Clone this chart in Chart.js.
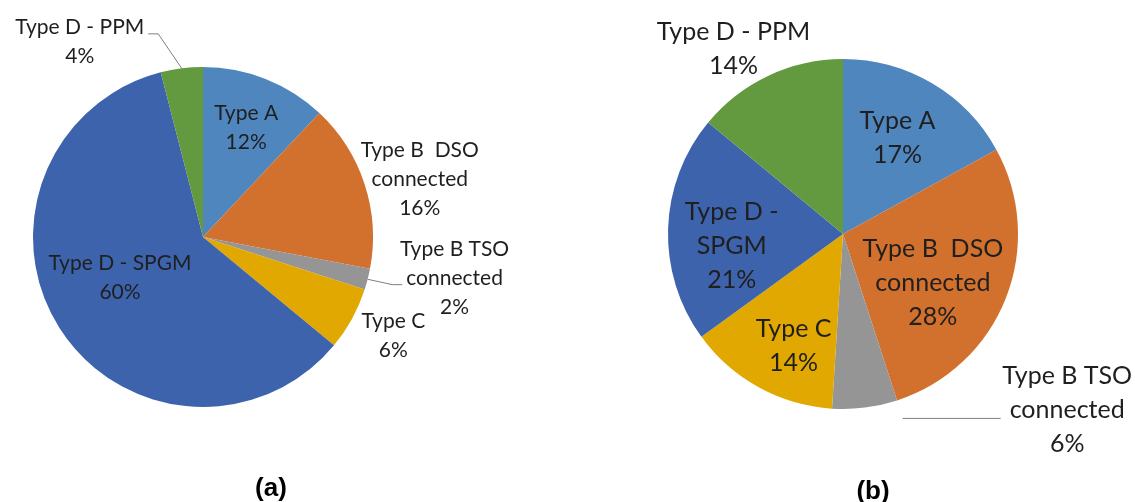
<!DOCTYPE html>
<html lang="en">
<head>
  <meta charset="UTF-8">
  <title>Generator types share</title>
  <script src="https://cdn.jsdelivr.net/npm/chart.js@4/dist/chart.umd.min.js"></script>
  <style>
    body { margin: 0; background: #fff; }
    #wrap { position: relative; width: 1135px; height: 502px; overflow: hidden; }
    .box { position: absolute; top: 0; height: 502px; }
    .cap { position: absolute; font: bold 26px "Liberation Sans", Arial, sans-serif; color: #000; transform: translate(-50%, -50%); }
  </style>
</head>
<body>
  <div id="wrap">
    <div class="box" style="left:0;width:560px"><canvas id="pieA"></canvas></div>
    <div class="box" style="left:560px;width:575px"><canvas id="pieB"></canvas></div>
    <div class="cap" style="left:271px;top:487px">(a)</div>
    <div class="cap" style="left:873px;top:490px">(b)</div>
  </div>

  <script>
    // data (percent)
    const categories = ['Type A', 'Type B  DSO connected', 'Type B TSO connected', 'Type C', 'Type D - SPGM', 'Type D - PPM'];
    const valuesA = [12, 16, 2, 6, 60, 4];
    const valuesB = [17, 28, 6, 14, 21, 14];
    const colors = ['#4F86BE', '#D2702D', '#959595', '#E0A800', '#3D63AC', '#639A3F'];

    // label text lines (percent line is added from the values)
    const linesA = [['Type A'], ['Type B  DSO', 'connected'], ['Type B TSO', 'connected'], ['Type C'], ['Type D - SPGM'], ['Type D - PPM']];
    const linesB = [['Type A'], ['Type B  DSO', 'connected'], ['Type B TSO', 'connected'], ['Type C'], ['Type D -', 'SPGM'], ['Type D - PPM']];

    // label placement: r = distance in radii, da = degrees away from slice middle
    const placeA = [
      { r: 0.69, da: 0 },
      { r: 1.32, da: 3 },
      { r: 1.50, da: -5, leader: 'elbowLeft' },
      { r: 1.26, da: -1.5 },
      { r: 0.545, da: 6 },
      { r: 1.36, da: -25, leader: 'elbowRight' }
    ];
    const placeB = [
      { r: 0.63, da: -1 },
      { r: 0.585, da: 7 },
      { r: 1.63, da: -44.6, leader: 'flat' },
      { r: 0.70, da: -5 },
      { r: 0.64, da: -8 },
      { r: 1.23, da: -5.4 }
    ];

    const sliceLabels = {
      id: 'sliceLabels',
      afterDatasetsDraw(chart, args, opts) {
        const ctx = chart.ctx;
        const meta = chart.getDatasetMeta(0);
        const data = chart.data.datasets[0].data;
        const total = data.reduce((s, v) => s + v, 0);
        ctx.save();
        ctx.font = opts.size + 'px Lato, "Open Sans", sans-serif';
        ctx.textAlign = 'center';
        ctx.textBaseline = 'middle';
        meta.data.forEach((arc, i) => {
          const p = arc.getProps(['x', 'y', 'startAngle', 'endAngle', 'outerRadius'], true);
          const mid = (p.startAngle + p.endAngle) / 2;
          const pl = opts.place[i];
          const a = mid + pl.da * Math.PI / 180;
          const cx = p.x + Math.cos(a) * pl.r * p.outerRadius;
          const cy = p.y + Math.sin(a) * pl.r * p.outerRadius;
          const lines = opts.lines[i].concat([Math.round(data[i] / total * 100) + '%']);
          const y0 = cy - (lines.length - 1) * opts.lh / 2;
          ctx.fillStyle = '#1f1f1f';
          lines.forEach((t, k) => ctx.fillText(t, cx, y0 + k * opts.lh));

          if (pl.leader) {
            const ex = p.x + Math.cos(mid) * p.outerRadius;
            const ey = p.y + Math.sin(mid) * p.outerRadius;
            ctx.strokeStyle = '#7f7f7f';
            ctx.lineWidth = 1;
            ctx.beginPath();
            if (pl.leader === 'elbowLeft') {
              const w = ctx.measureText(lines[1]).width;
              const tx = cx - w / 2 - 4, ty = y0 + opts.lh + 6;
              ctx.moveTo(ex, ey); ctx.lineTo(tx - 10, ty); ctx.lineTo(tx, ty);
            } else if (pl.leader === 'elbowRight') {
              const w = ctx.measureText(lines[0]).width;
              const tx = cx + w / 2 + 4, ty = y0 + 7;
              ctx.moveTo(ex, ey); ctx.lineTo(tx + 10, ty); ctx.lineTo(tx, ty);
            } else {
              const w = ctx.measureText(lines[1]).width;
              const tx = cx - w / 2 - 9, ty = y0 + opts.lh + 8;
              ctx.moveTo(tx, ty); ctx.lineTo(tx - 98, ty);
            }
            ctx.stroke();
          }
        });
        ctx.restore();
      }
    };

    function makePie(id, values, pad, lines, place, size, lh) {
      return new Chart(document.getElementById(id), {
        type: 'pie',
        data: {
          labels: categories,
          datasets: [{
            data: values,
            backgroundColor: colors,
            borderWidth: 0,
            hoverOffset: 0,
            offset: 0
          }]
        },
        options: {
          responsive: true,
          maintainAspectRatio: false,
          animation: false,
          events: [],
          layout: { padding: pad },
          plugins: {
            legend: { display: false },
            tooltip: { enabled: false },
            sliceLabels: { lines: lines, place: place, size: size, lh: lh }
          }
        },
        plugins: [sliceLabels]
      });
    }

    makePie('pieA', valuesA, { left: 33, right: 187, top: 67, bottom: 95 }, linesA, placeA, 21, 29);
    makePie('pieB', valuesB, { left: 108, right: 117, top: 59, bottom: 93 }, linesB, placeB, 25, 34);
  </script>
</body>
</html>
